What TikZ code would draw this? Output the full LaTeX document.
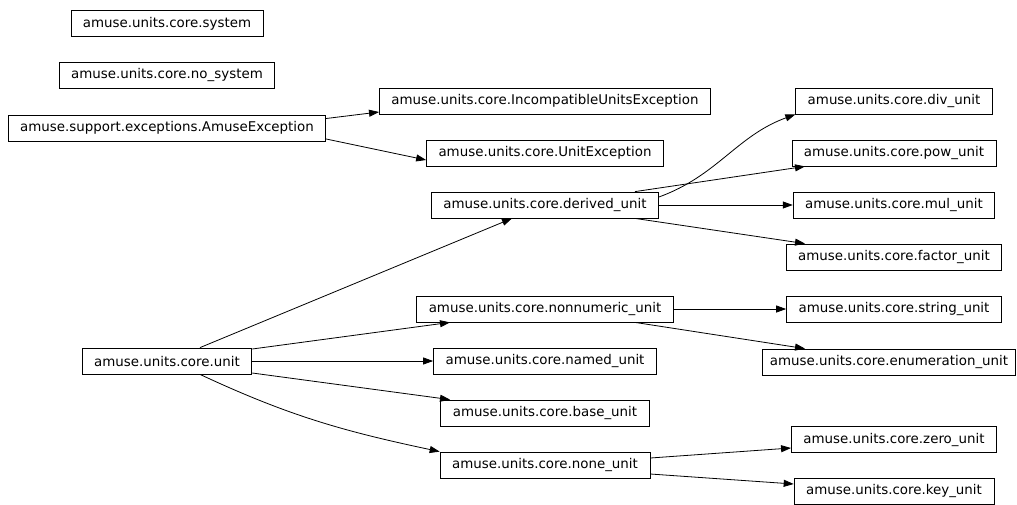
\documentclass[tikz,border=0pt]{standalone}
\usepackage{fontspec}
\setmainfont{DejaVu Sans}
\usepackage{tikz}
\usetikzlibrary{arrows.meta,positioning}
\tikzset{
  cls/.style={draw=black,line width=.8pt,minimum height=26pt,inner xsep=12pt,
              inner ysep=0pt,font=\fontsize{13.4}{16}\selectfont},
  inherit/.style={-{Triangle[length=10pt,width=7pt]},draw=black,line width=.8pt},
}

\begin{document}
\begin{tikzpicture}[x=1pt,y=1pt]
  \useasboundingbox (0,0) rectangle (1017,-504);
  % rank 0
  \node[cls] (system)   at (167,-23.5) {amuse.units.core.system};
  \node[cls] (nosystem) at (167,-75)   {amuse.units.core.no\_system};
  \node[cls] (ae)       at (167,-128)  {amuse.support.exceptions.AmuseException};
  \node[cls] (unit)     at (167,-361)  {amuse.units.core.unit};
  % rank 1
  \node[cls] (iue)      at (545,-101)  {amuse.units.core.IncompatibleUnitsException};
  \node[cls] (ue)       at (545,-153)  {amuse.units.core.UnitException};
  \node[cls] (derived)  at (545,-205)  {amuse.units.core.derived\_unit};
  \node[cls] (nonnum)   at (545,-309)  {amuse.units.core.nonnumeric\_unit};
  \node[cls] (named)    at (545,-361)  {amuse.units.core.named\_unit};
  \node[cls] (base)     at (545,-413)  {amuse.units.core.base\_unit};
  \node[cls] (none)     at (545,-465)  {amuse.units.core.none\_unit};
  % rank 2
  \node[cls] (div)      at (894,-101)  {amuse.units.core.div\_unit};
  \node[cls] (pow)      at (894,-153)  {amuse.units.core.pow\_unit};
  \node[cls] (mul)      at (894,-205)  {amuse.units.core.mul\_unit};
  \node[cls] (factor)   at (894,-257)  {amuse.units.core.factor\_unit};
  \node[cls] (string)   at (894,-309)  {amuse.units.core.string\_unit};
  \node[cls,inner xsep=7pt] (enum) at (889,-362) {amuse.units.core.enumeration\_unit};
  \node[cls] (zero)     at (894,-439.5){amuse.units.core.zero\_unit};
  \node[cls] (key)      at (894,-491)  {amuse.units.core.key\_unit};
  % inheritance
  \draw[inherit] ([yshift=9.5pt]ae.east) -- ([yshift=-11pt]iue.west);
  \draw[inherit] ([yshift=-11pt]ae.east) -- ([yshift=-7pt]ue.west);
  \draw[inherit] ([xshift=33pt]unit.north) -- ([xshift=-33pt]derived.south);
  \draw[inherit] ([yshift=12pt]unit.east) -- ([xshift=-95pt]nonnum.south);
  \draw[inherit] (unit.east) -- (named.west);
  \draw[inherit] ([yshift=-12pt]unit.east) -- ([xshift=-95pt]base.north);
  \draw[inherit] ([xshift=33pt]unit.south) to[out=-25,in=168] (none.north west);
  \draw[inherit] ([yshift=8pt]derived.east) to[out=20,in=200] (div.south west);
  \draw[inherit] ([xshift=90pt]derived.north) -- ([xshift=-89pt]pow.south);
  \draw[inherit] (derived.east) -- (mul.west);
  \draw[inherit] ([xshift=90pt]derived.south) -- ([xshift=-89pt]factor.north);
  \draw[inherit] (nonnum.east) -- (string.west);
  \draw[inherit] ([xshift=90pt]nonnum.south) -- ([xshift=-84pt]enum.north);
  \draw[inherit] ([yshift=7pt]none.east) -- ([yshift=-8.5pt]zero.west);
  \draw[inherit] ([yshift=-9pt]none.east) -- ([yshift=7pt]key.west);
\end{tikzpicture}
\end{document}
